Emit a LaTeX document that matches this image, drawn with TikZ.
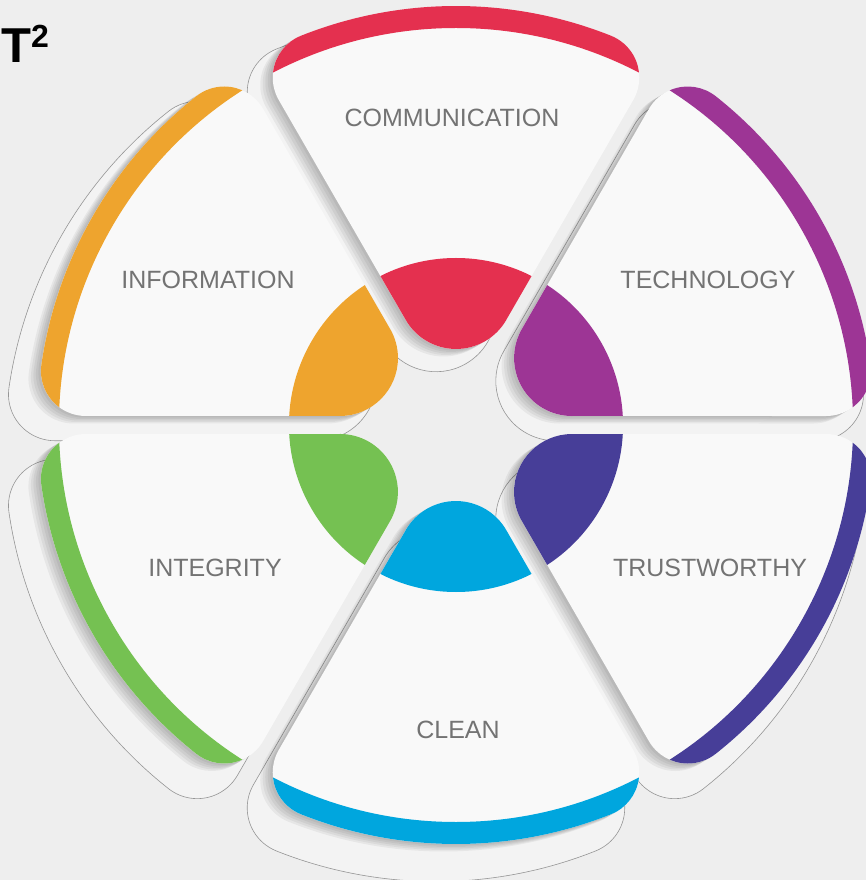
\documentclass[tikz,border=0pt]{standalone}
\usepackage{fontspec}
\setmainfont{Liberation Sans}
\usepackage{xcolor}
\definecolor{bgcol}{HTML}{EEEEEE}
\definecolor{sheetfill}{HTML}{F3F3F3}
\definecolor{sheetline}{HTML}{959595}
\definecolor{petalwhite}{HTML}{F9F9F9}
\definecolor{labelgray}{HTML}{737373}
\definecolor{commred}{HTML}{E4304F}
\definecolor{infoorange}{HTML}{EEA42E}
\definecolor{techpurple}{HTML}{9D3595}
\definecolor{trustblue}{HTML}{473E98}
\definecolor{cleancyan}{HTML}{00A6DE}
\definecolor{intgreen}{HTML}{75C152}

% one petal, tip towards the centre, axis pointing up
\newcommand{\petalpath}{(50.2,105) -- (177.25,324.99)
  arc[start angle=-30,end angle=68.3,radius=45]
  arc[start angle=68.3,end angle=111.7,radius=419]
  arc[start angle=111.7,end angle=210,radius=45]
  -- (-50.2,105) arc[start angle=210,end angle=330,radius=58] -- cycle}

\newcommand{\backsheet}[1]{\begin{scope}[shift={(-20,-25)},rotate=#1-90,scale=1.03]
  \filldraw[sheet] \petalpath;\end{scope}}
\newcommand{\petalshadow}[1]{\foreach \k in {1,...,5}{%
  \begin{scope}[shift={(-2.5*\k,-1.5*\k)},rotate=#1-90]
  \fill[black,opacity=0.05] \petalpath;\end{scope}}}
\newcommand{\drawpetal}[2]{\begin{scope}[rotate=#1-90]
  \fill[petalwhite] \petalpath;
  \begin{scope}
    \clip \petalpath;
    \fill[#2] (0,0) circle (167);
    \fill[#2,even odd rule] (0,0) circle (520) (0,0) circle (397);
  \end{scope}
  \end{scope}}

\begin{document}
\begin{tikzpicture}[x=1pt,y=1pt,
    sheet/.style={fill=sheetfill,draw=sheetline,line width=0.6pt},
    petaltext/.style={font=\fontsize{25}{30}\selectfont,text=labelgray,inner sep=0}]
	\useasboundingbox (-456,-455) rectangle (410,425);
	\fill[bgcol] (-456,-455) rectangle (410,425);
	% sheets behind the petals
	\backsheet{90} \backsheet{30} \backsheet{-30}
	\backsheet{-90} \backsheet{210} \backsheet{150}
	\petalshadow{90} \petalshadow{30} \petalshadow{-30}
	\petalshadow{-90} \petalshadow{210} \petalshadow{150}
	% the petals
	\drawpetal{90}{commred}
	\drawpetal{30}{techpurple}
	\drawpetal{-30}{trustblue}
	\drawpetal{-90}{cleancyan}
	\drawpetal{210}{intgreen}
	\drawpetal{150}{infoorange}
	\path (-4,307) node(communication)[petaltext]{COMMUNICATION}
		(-248,145) node(information)[petaltext]{INFORMATION}
		(252,145) node(technology)[petaltext]{TECHNOLOGY}
		(-241,-143) node(integrity)[petaltext]{INTEGRITY}
		(254,-143) node(trustworthy)[petaltext]{TRUSTWORTHY}
		(2,-305) node(clean)[petaltext]{CLEAN};
	\node[anchor=base west,inner sep=0,font=\bfseries\fontsize{49}{49}\selectfont] (title)
		at (-455,362) {T\raisebox{15pt}{\fontsize{32}{32}\selectfont 2}};
\end{tikzpicture}
\end{document}
